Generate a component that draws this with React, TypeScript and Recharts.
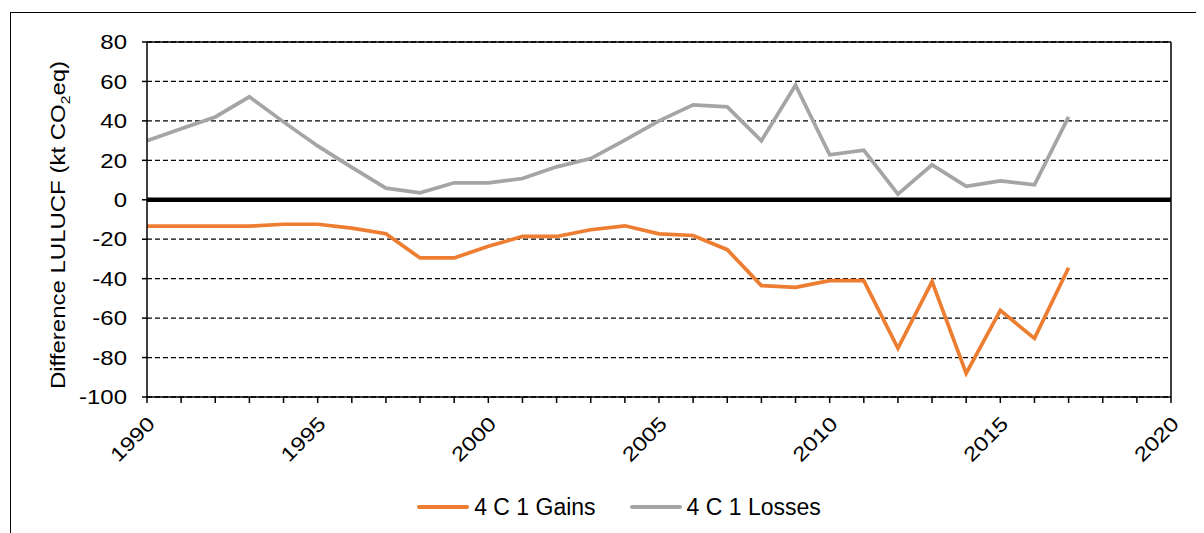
import React from "react";
import { LineChart, Line, XAxis, YAxis, CartesianGrid, ReferenceLine, Legend } from "recharts";

const years = [
  1990, 1991, 1992, 1993, 1994, 1995, 1996, 1997, 1998, 1999,
  2000, 2001, 2002, 2003, 2004, 2005, 2006, 2007, 2008, 2009,
  2010, 2011, 2012, 2013, 2014, 2015, 2016, 2017,
];
const gains = [
  -13.4, -13.4, -13.4, -13.4, -12.4, -12.4, -14.4, -17.2, -29.5, -29.5,
  -23.6, -18.6, -18.6, -15.2, -13.2, -17.3, -18.1, -25.3, -43.5, -44.4,
  -41.0, -41.0, -75.3, -41.5, -88.0, -56.1, -70.3, -34.5,
];
const losses = [
  29.9, 36.0, 42.0, 52.2, 39.5, 27.3, 16.4, 5.9, 3.5, 8.6,
  8.6, 10.8, 16.7, 20.9, 30.2, 40.0, 48.1, 47.1, 29.9, 58.1,
  22.8, 25.1, 2.9, 17.7, 6.8, 9.6, 7.6, 42.0,
];
const seriesNames = ["4 C 1 Gains", "4 C 1 Losses"];
const seriesColors = ["#ED7D31", "#A5A5A5"];
const yTicks = [80, 60, 40, 20, 0, -20, -40, -60, -80, -100];
const xTicks = [
  1990, 1991, 1992, 1993, 1994, 1995, 1996, 1997, 1998, 1999,
  2000, 2001, 2002, 2003, 2004, 2005, 2006, 2007, 2008, 2009,
  2010, 2011, 2012, 2013, 2014, 2015, 2016, 2017, 2018, 2019, 2020,
];
const labelledYears = [1990, 1995, 2000, 2005, 2010, 2015, 2020];

const data = years.map((year, i) => ({ year, gains: gains[i], losses: losses[i] }));

const FONT = "'Liberation Sans', Arial, sans-serif";
const STRETCH = 1.2;
const W = 1196;
const H = 525;

const YTick = ({ x, y, payload }: any) => (
  <text
    transform={`translate(${x},${y}) scale(${STRETCH},1)`}
    textAnchor="end"
    dy="0.36em"
    fontSize={20}
    fontFamily={FONT}
    fill="#000"
  >
    {payload.value}
  </text>
);

const XTick = ({ x, y, payload }: any) => {
  if (!labelledYears.includes(payload.value)) return <g />;
  return (
    <text
      transform={`translate(${x - 1},${y + 12}) rotate(-45) scale(${STRETCH},1)`}
      textAnchor="end"
      dy="0.72em"
      fontSize={20}
      fontFamily={FONT}
      fill="#000"
    >
      {payload.value}
    </text>
  );
};

const YLabel = () => (
  <text
    transform={`translate(57,217) rotate(-90) scale(${STRETCH},1)`}
    textAnchor="middle"
    fontSize={20}
    fontFamily={FONT}
    fill="#000"
  >
    Difference LULUCF (kt CO
    <tspan fontSize={13} dy={5}>2</tspan>
    <tspan dy={-5}>eq)</tspan>
  </text>
);

const LegendContent = () => (
  <div
    style={{
      display: "flex",
      justifyContent: "center",
      alignItems: "center",
      paddingLeft: 26,
      height: 30,
      fontFamily: FONT,
      fontSize: 23,
      color: "#000",
    }}
  >
    {seriesNames.map((name, i) => (
      <div key={name} style={{ display: "flex", alignItems: "center", marginLeft: i ? 34 : 0 }}>
        <div style={{ width: 52, height: 4, background: seriesColors[i], borderRadius: 2, marginRight: 5 }} />
        <span>{name}</span>
      </div>
    ))}
  </div>
);

export default function App() {
  return (
    <div style={{ position: "relative", width: W, height: H, overflow: "hidden", background: "#fff" }}>
      <div
        style={{
          position: "absolute",
          left: 2,
          top: 4,
          width: 1400,
          height: 800,
          border: "1.5px solid #000",
        }}
      />
      <LineChart
        width={W}
        height={H}
        data={data}
        margin={{ top: 34, right: 33, left: 0, bottom: 11 }}
        style={{ position: "absolute", left: 0, top: 0 }}
      >
        <CartesianGrid vertical={false} stroke="#000" strokeWidth={1.3} strokeDasharray="5 3" />
        <XAxis
          dataKey="year"
          type="number"
          domain={[1990, 2020]}
          ticks={xTicks}
          interval={0}
          height={95}
          tickSize={6}
          tickMargin={0}
          axisLine={{ stroke: "#000", strokeWidth: 1.5 }}
          tickLine={{ stroke: "#000", strokeWidth: 1.5 }}
          tick={<XTick />}
        />
        <YAxis
          type="number"
          domain={[-100, 80]}
          ticks={yTicks}
          interval={0}
          width={139}
          tickSize={5}
          tickMargin={15}
          axisLine={{ stroke: "#000", strokeWidth: 1.5 }}
          tickLine={{ stroke: "#000", strokeWidth: 1.5 }}
          tick={<YTick />}
          label={<YLabel />}
        />
        <ReferenceLine y={80} stroke="#000" strokeWidth={1.5} />
        <ReferenceLine x={2020} stroke="#000" strokeWidth={1.5} />
        <ReferenceLine y={0} stroke="#000" strokeWidth={4.5} />
        <Legend
          verticalAlign="bottom"
          height={30}
          wrapperStyle={{ left: 0, width: W }}
          content={<LegendContent />}
        />
        <Line
          dataKey="gains"
          name={seriesNames[0]}
          stroke={seriesColors[0]}
          strokeWidth={3.7}
          dot={false}
          isAnimationActive={false}
        />
        <Line
          dataKey="losses"
          name={seriesNames[1]}
          stroke={seriesColors[1]}
          strokeWidth={3.7}
          dot={false}
          isAnimationActive={false}
        />
      </LineChart>
    </div>
  );
}
